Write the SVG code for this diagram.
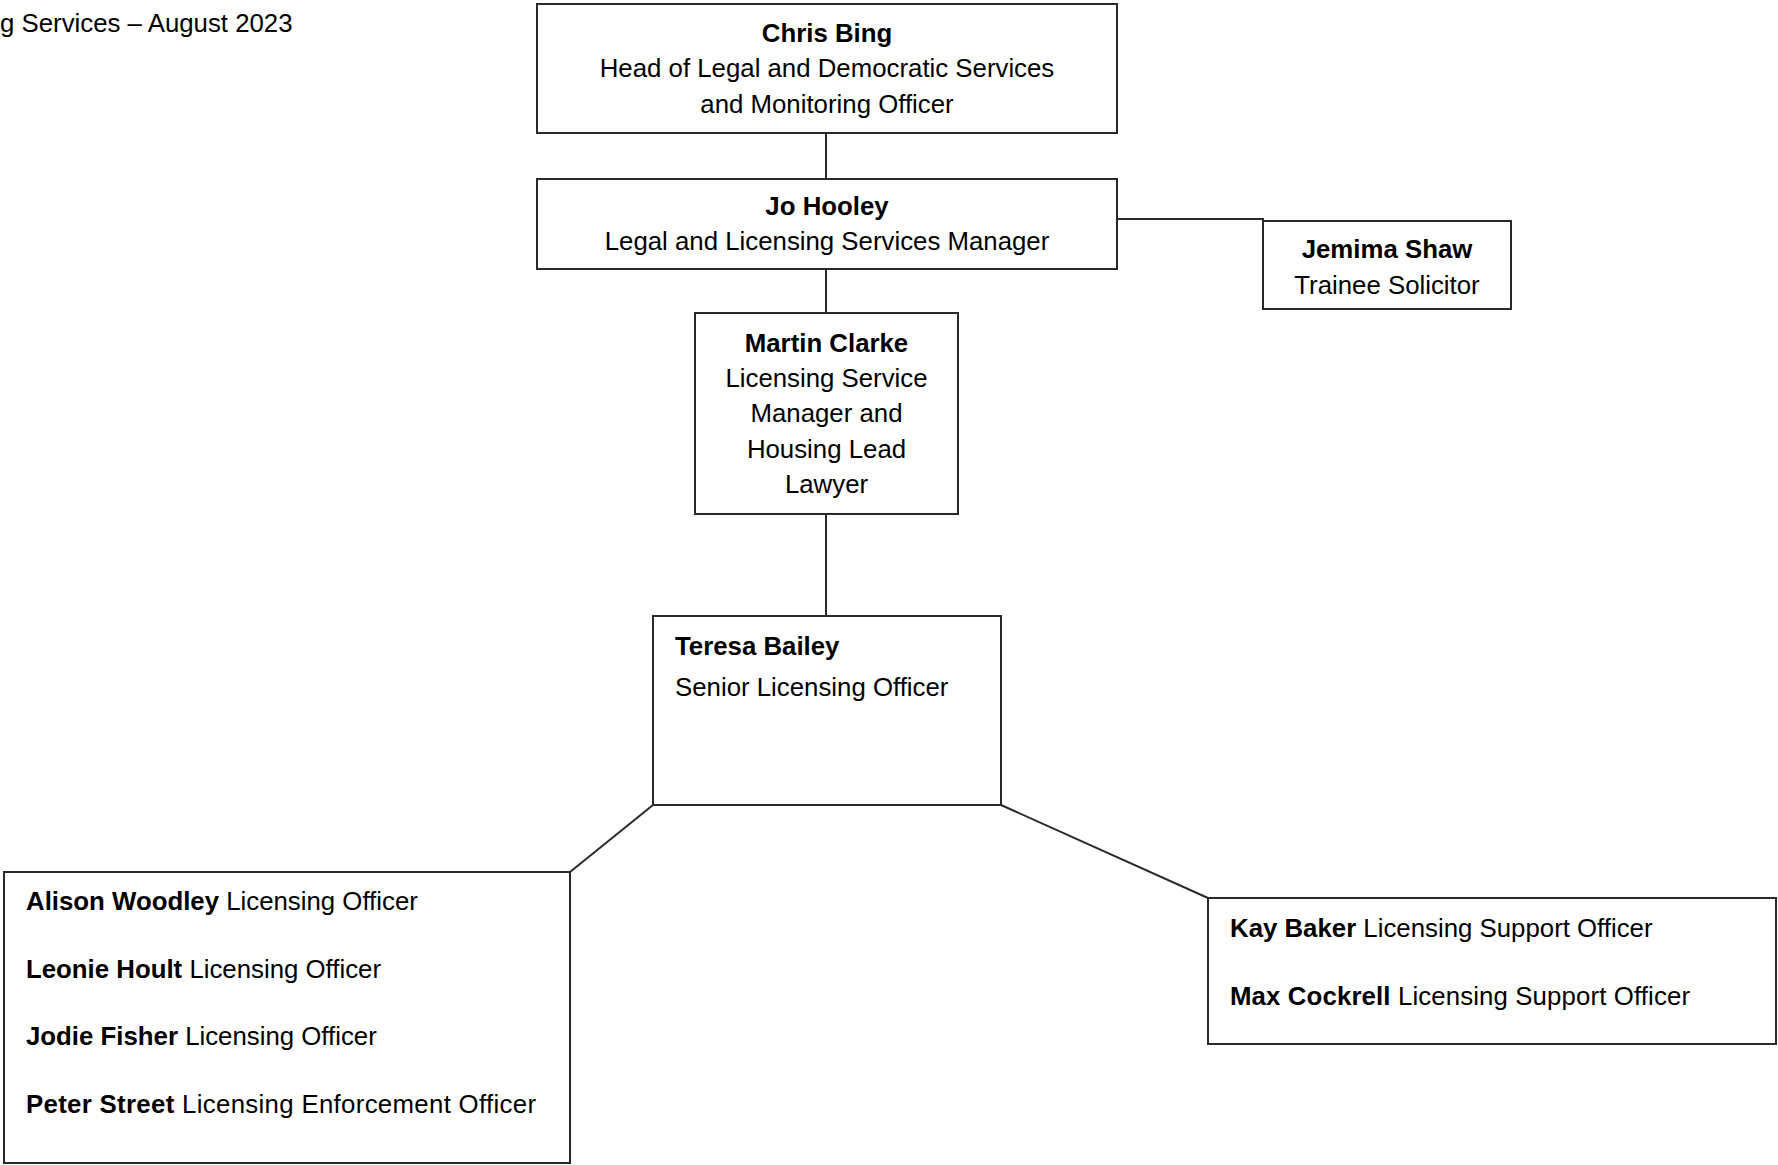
<svg xmlns="http://www.w3.org/2000/svg" width="1778" height="1165" viewBox="0 0 1778 1165">
<style>
  .box { fill: #ffffff; stroke: #2a2a2a; stroke-width: 2; }
  .conn { fill: none; stroke: #2a2a2a; stroke-width: 2; }
  text { font-family: "Liberation Sans", Arial, sans-serif; font-size: 25.8px; fill: #000000; }
  .c { text-anchor: middle; }
  .b { font-weight: bold; }
</style>
<rect width="1778" height="1165" fill="#ffffff"/>
<text id="title" x="0" y="32">g Services – August 2023</text>

<g id="connectors">
  <line class="conn" x1="826" y1="133" x2="826" y2="179"/>
  <line class="conn" x1="826" y1="269" x2="826" y2="313"/>
  <line class="conn" x1="826" y1="514" x2="826" y2="616"/>
  <polyline class="conn" points="1117,219 1263,219 1263,221"/>
  <line class="conn" x1="653" y1="805" x2="570" y2="872"/>
  <line class="conn" x1="1001" y1="805" x2="1208" y2="898"/>
</g>

<g id="chris-bing">
  <rect class="box" x="537" y="4" width="580" height="129"/>
  <text class="c b" x="827" y="41.5">Chris Bing</text>
  <text class="c" x="827" y="77.3">Head of Legal and Democratic Services</text>
  <text class="c" x="827" y="113">and Monitoring Officer</text>
</g>

<g id="jo-hooley">
  <rect class="box" x="537" y="179" width="580" height="90"/>
  <text class="c b" x="827" y="214.5">Jo Hooley</text>
  <text class="c" x="827" y="250">Legal and Licensing Services Manager</text>
</g>

<g id="jemima-shaw">
  <rect class="box" x="1263" y="221" width="248" height="88"/>
  <text class="c b" x="1387" y="258">Jemima Shaw</text>
  <text class="c" x="1387" y="294">Trainee Solicitor</text>
</g>

<g id="martin-clarke">
  <rect class="box" x="695" y="313" width="263" height="201"/>
  <text class="c b" x="826.5" y="351.5">Martin Clarke</text>
  <text class="c" x="826.5" y="387">Licensing Service</text>
  <text class="c" x="826.5" y="422.4">Manager and</text>
  <text class="c" x="826.5" y="457.8">Housing Lead</text>
  <text class="c" x="826.5" y="493">Lawyer</text>
</g>

<g id="teresa-bailey">
  <rect class="box" x="653" y="616" width="348" height="189"/>
  <text class="b" x="675" y="655">Teresa Bailey</text>
  <text x="675" y="696">Senior Licensing Officer</text>
</g>

<g id="licensing-officers">
  <rect class="box" x="4" y="872" width="566" height="291"/>
  <text x="26" y="910"><tspan class="b">Alison Woodley</tspan> Licensing Officer</text>
  <text x="26" y="977.5"><tspan class="b">Leonie Hoult</tspan> Licensing Officer</text>
  <text x="26" y="1045"><tspan class="b">Jodie Fisher</tspan> Licensing Officer</text>
  <text x="26" y="1112.5" textLength="510"><tspan class="b">Peter Street</tspan> Licensing Enforcement Officer</text>
</g>

<g id="support-officers">
  <rect class="box" x="1208" y="898" width="568" height="146"/>
  <text x="1230" y="937"><tspan class="b">Kay Baker</tspan> Licensing Support Officer</text>
  <text x="1230" y="1004.5" textLength="460"><tspan class="b">Max Cockrell</tspan> Licensing Support Officer</text>
</g>
</svg>
